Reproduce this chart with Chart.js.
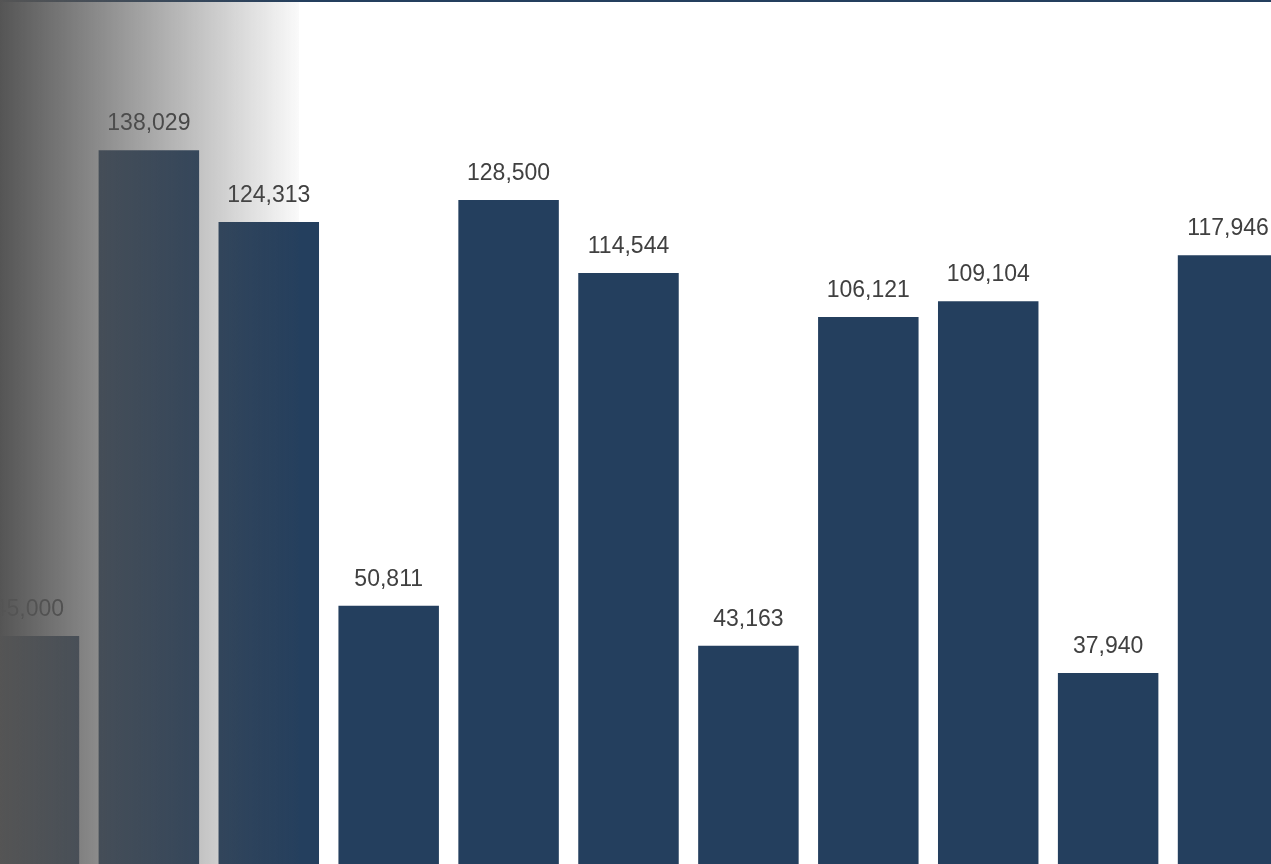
<!DOCTYPE html>
<html>
<head>
<meta charset="utf-8">
<script src="https://cdn.jsdelivr.net/npm/chart.js@4/dist/chart.umd.min.js"></script>
<style>
html,body{margin:0;padding:0;width:1271px;height:864px;overflow:hidden;background:#fff;position:relative}
#wrap{position:absolute;left:-31px;top:0;width:1319px;height:871px}
#topline{position:absolute;left:0;top:0;width:1271px;height:2px;background:#243F5E}
#shade{position:absolute;left:0;top:0;width:299px;height:864px;pointer-events:none;
  background:linear-gradient(to right, rgba(85,85,85,1) 0%, rgba(85,85,85,0.03) 100%)}
</style>
</head>
<body>
<div id="wrap"><canvas id="c" width="1319" height="871"></canvas></div>
<div id="topline"></div>
<div id="shade"></div>
<script>
const categories = ["1","2","3","4","5","6","7","8","9","10","11"];
const values = [45000, 138029, 124313, 50811, 128500, 114544, 43163, 106121, 109104, 37940, 117946];
const yMin = 0;
const yMax = 160000;

const labelPlugin = {
  id: 'barLabels',
  afterDatasetsDraw(chart) {
    const ctx = chart.ctx;
    const meta = chart.getDatasetMeta(0);
    ctx.save();
    ctx.font = '23px "Liberation Sans", Arial, sans-serif';
    ctx.fillStyle = '#404040';
    ctx.textAlign = 'center';
    ctx.textBaseline = 'alphabetic';
    meta.data.forEach((bar, i) => {
      const v = chart.data.datasets[0].data[i];
      ctx.fillText(v.toLocaleString('en-US'), bar.x, bar.y - 20);
    });
    ctx.restore();
  }
};

new Chart(document.getElementById('c'), {
  type: 'bar',
  data: {
    labels: categories,
    datasets: [{
      data: values,
      backgroundColor: '#243F5E',
      borderWidth: 0,
      categoryPercentage: 1,
      barPercentage: 0.838
    }]
  },
  options: {
    responsive: false,
    animation: false,
    layout: { padding: { top: 35.6, left: 0, right: 0, bottom: 0 } },
    scales: {
      x: { display: false },
      y: { display: false, min: yMin, max: yMax }
    },
    plugins: { legend: { display: false }, tooltip: { enabled: false } }
  },
  plugins: [labelPlugin]
});
</script>
</body>
</html>
